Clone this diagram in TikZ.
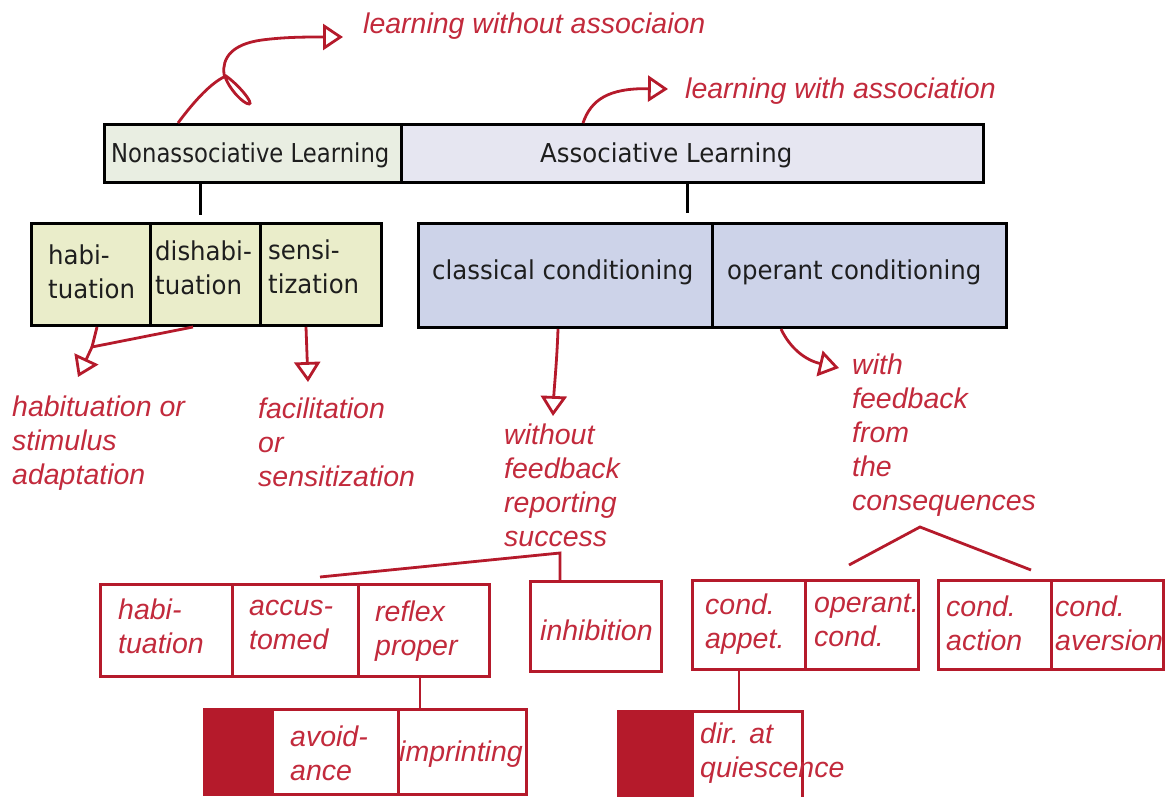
\documentclass[tikz,border=0pt]{standalone}
\usepackage{fontspec}
\usepackage{graphicx}
\usetikzlibrary{arrows.meta}
\newfontfamily\boxfont[FakeStretch=0.94]{DejaVu Sans}
\newfontfamily\notefont{Liberation Sans}
\definecolor{inkred}{HTML}{B51A2B}
\definecolor{notered}{HTML}{C22A3C}
\definecolor{nonfill}{HTML}{E9EEE2}
\definecolor{assfill}{HTML}{E6E6F1}
\definecolor{kindfill}{HTML}{EAEDCA}
\definecolor{condfill}{HTML}{CDD3E9}
\definecolor{labelgray}{HTML}{1E1E1E}

\begin{document}
\begin{tikzpicture}[x=1pt,y=-1pt,
  cell/.style={draw=black, line width=3pt, inner sep=0pt, anchor=north west},
  rcell/.style={draw=inkred, fill=white, line width=2.8pt, inner sep=0pt, anchor=north west},
  blk/.style={font=\boxfont\fontsize{26}{34}\selectfont, text=labelgray, inner sep=0pt,
    anchor=north west, align=left, execute at begin node=\strut},
  note/.style={font=\notefont\itshape\fontsize{28.5}{34}\selectfont, text=notered, inner sep=0pt,
    anchor=north west, align=left, execute at begin node=\strut},
  tick/.style={draw=black, line width=3pt},
  rline/.style={draw=inkred, line width=2.8pt},
  rarrow/.style={rline, -{Triangle[open, length=20pt, width=26pt]}},
]
\useasboundingbox (0,0) rectangle (1168,797);

% ---- top level ----
\node[cell, fill=nonfill, minimum width=297pt, minimum height=58pt] (nl) at (103,123) {};
\node[cell, fill=assfill, minimum width=582pt, minimum height=58pt] (al) at (400,123) {};
\node[blk] (nlt) at (111,138.2) {\scalebox{0.93}[1]{Nonassociative Learning}};
\node[blk] (alt) at (540,138.2) {Associative Learning};

% ---- kinds of nonassociative learning ----
\node[cell, fill=kindfill, minimum width=119pt, minimum height=102pt] (hab) at (30,222) {};
\node[cell, fill=kindfill, minimum width=110pt, minimum height=102pt] (dis) at (149,222) {};
\node[cell, fill=kindfill, minimum width=121pt, minimum height=102pt] (sen) at (259,222) {};
\node[blk] (habt) at (48,244.5) {habi-\\tuation};
\node[blk] (dist) at (155,240.5) {dishabi-\\tuation};
\node[blk] (sent) at (268,239.5) {sensi-\\tization};

% ---- kinds of associative learning ----
\node[cell, fill=condfill, minimum width=294pt, minimum height=104pt] (cc) at (417,222) {};
\node[cell, fill=condfill, minimum width=294pt, minimum height=104pt] (oc) at (711,222) {};
\node[blk] (cct) at (432,255.5) {classical conditioning};
\node[blk] (oct) at (727,255.5) {operant conditioning};

% short ticks under the top bar
\coordinate (k1) at (200,215);
\coordinate (k2) at (687,213);
\draw[tick] (k1 |- nl.south) -- (k1);
\draw[tick] (k2 |- al.south) -- (k2);

% ---- notes ----
\node[note] (n1) at (363,9.7) {learning without associaion};
\node[note] (n2) at (685,75) {learning with association};
\node[note] (n3) at (12,395.5) {habituation or\\stimulus\\adaptation};
\node[note] (n4) at (258,397.5) {facilitation\\or\\sensitization};
\node[note] (n5) at (504,423.5) {without\\feedback\\reporting\\success};
\node[note] (n6) at (852,353.5) {with\\feedback\\from\\the\\consequences};

% curved arrows from the top bar
\coordinate (tipA) at (343,37);
\coordinate (tipB) at (668,89);
\draw[rarrow] (178,0 |- nl.north) .. controls (195,100) and (212,82) .. (226,76)
  .. controls (240,86) and (254,104) .. (249,104)
  .. controls (244,104) and (229,90) .. (224,74)
  .. controls (222,58) and (232,44) .. (262,40)
  .. controls (285,37) and (305,37) .. (tipA);
\draw[rarrow] (583,0 |- al.north) .. controls (591,100) and (608,88) .. (tipB);

% arrows from the second row
\coordinate (j1) at (92,347);
\coordinate (tip1) at (78,377);
\coordinate (tip2) at (308,382);
\coordinate (tip3) at (553,416);
\coordinate (tip4) at (839,368);
\draw[rline] (97,0 |- hab.south) -- (j1);
\draw[rarrow] (193,0 |- dis.south) -- (j1) -- (tip1);
\draw[rarrow] (306,0 |- sen.south) -- (tip2);
\draw[rarrow] (558,0 |- cc.south) .. controls (557,360) and (554,390) .. (tip3);
\draw[rarrow] (781,0 |- oc.south) .. controls (790,348) and (805,360) .. (tip4);

% ---- subdivisions, classical side ----
\node[rcell, minimum width=132pt, minimum height=92pt] (rh) at (99,583) {};
\node[rcell, minimum width=126pt, minimum height=92pt] (ra) at (231,583) {};
\node[rcell, minimum width=131pt, minimum height=92pt] (rr) at (357,583) {};
\node[rcell, minimum width=131pt, minimum height=90pt] (inh) at (529,580) {};
\node[note] (rht) at (118,599) {habi-\\tuation};
\node[note] (rat) at (249,599.5) {accus-\\tomed};
\node[note] (rrt) at (375,600.5) {reflex\\proper};
\node[note] (inht) at (540,616.5) {inhibition};

\coordinate (s1) at (560,553);
\coordinate (s2) at (320,577);
\draw[rline] (s2) -- (s1) -- (s1 |- inh.north);

\node[rcell, fill=inkred, minimum width=68pt, minimum height=85pt] (mark1) at (203,708) {};
\node[rcell, minimum width=126pt, minimum height=85pt] (av) at (271,708) {};
\node[rcell, minimum width=128pt, minimum height=85pt] (imp) at (397,708) {};
\node[note] (avt) at (290,726) {avoid-\\ance};
\node[note] (impt) at (399,737) {imprinting};
\draw[rline] (420,0 |- rr.south) -- (420,0 |- av.north);

% ---- subdivisions, operant side ----
\node[rcell, minimum width=113pt, minimum height=89pt] (ca) at (691,579) {};
\node[rcell, minimum width=113pt, minimum height=89pt] (opc) at (804,579) {};
\node[rcell, minimum width=113pt, minimum height=89pt] (cact) at (937,579) {};
\node[rcell, minimum width=112pt, minimum height=89pt] (cav) at (1050,579) {};
\node[note] (cat) at (705,594) {cond.\\appet.};
\node[note] (opct) at (814,594) {operant.\\cond.};
\node[note] (cactt) at (946,596) {cond.\\action};
\node[note] (cavt) at (1055,596) {cond.\\aversion};

\coordinate (c1) at (849,565);
\coordinate (c2) at (920,527);
\coordinate (c3) at (1031,570);
\draw[rline] (c1) -- (c2) -- (c3);

\node[rcell, fill=inkred, minimum width=74pt, minimum height=92pt] (mark2) at (617,710) {};
\node[rcell, minimum width=110pt, minimum height=92pt] (dq) at (691,710) {};
\node[note] (dqt) at (700,723) {dir. at\\quiescence};
\draw[rline] (739,0 |- ca.south) -- (739,0 |- dq.north);
\end{tikzpicture}
\end{document}
